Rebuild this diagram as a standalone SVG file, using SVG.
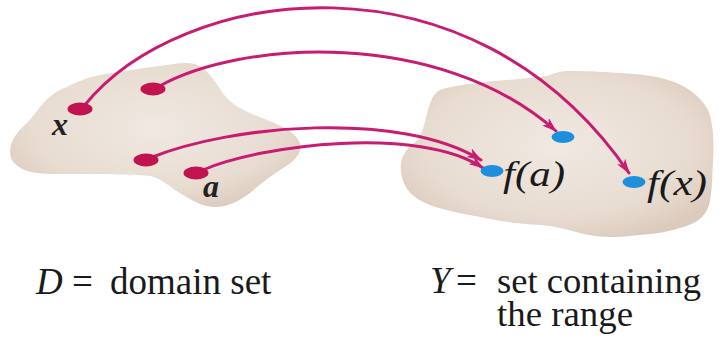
<svg xmlns="http://www.w3.org/2000/svg" width="725" height="339" viewBox="0 0 725 339">
<style>
.dotm{fill:#c0134f}
.dotb{fill:#1e8fdc}
.arr{fill:none;stroke:#c81c72;stroke-width:3;stroke-linecap:round}
</style>
<defs>
<radialGradient id="g" cx="0.5" cy="0.45" r="0.6">
<stop offset="0" stop-color="#f0e9e2"/>
<stop offset="0.7" stop-color="#e8dcd1"/>
<stop offset="1" stop-color="#dccbbd"/>
</radialGradient>
<marker id="ah" markerUnits="userSpaceOnUse" markerWidth="16" markerHeight="10" refX="14" refY="5" orient="auto">
<path d="M0,0 L15,5 L0,10 L4,5 z" fill="#c81c72"/>
</marker>
</defs>
<g id="domain">
<path fill="url(#g)" d="M40,107 C50,95 58,90 67,87 C80,80 90,77 100,75 C120,72 140,68 167,65 C178,63 187,62 195,64 C207,68 214,80 222,92 C230,103 240,110 267,120 C285,127 296,133 300,143 C303,152 295,162 280,170 C268,178 258,186 250,193 C238,202 225,208 213,207 C200,206 190,199 178,192 C168,185 160,178 150,176 C130,174 90,174 60,174 C35,174 20,172 12,160 C7,150 12,135 27,123 C32,118 36,112 40,107 Z"/>
</g>
<g id="range">
<path fill="url(#g)" d="M440,90 C455,85 470,84 485,82 C510,80 530,78 547,76 C555,73 560,71 570,71 C590,71 605,72 620,73 C640,74 655,76 668,80 C685,85 700,95 708,110 C714,125 714,145 713,162 C712,180 712,195 709,205 C705,218 695,224 680,228 C665,233 650,234 630,236 C610,238 595,237 580,233 C565,229 555,226 540,225 C520,224 505,222 490,219 C470,215 450,212 430,205 C412,198 403,188 401,172 C400,160 403,150 418,140 C424,130 425,120 428,110 C431,100 433,94 440,90 Z"/>
</g>
<g id="connectors" marker-end="url(#ah)">
<path class="arr" marker-end="url(#ah)" d="M84,106 C180,-14 470,-58 629,173"/>
<path class="arr" marker-end="url(#ah)" d="M158,87 C240,40 440,28 556,131"/>
<path class="arr" marker-end="url(#ah)" d="M150,158 C230,125 400,110 481,160"/>
<path class="arr" marker-end="url(#ah)" d="M203,170 C260,145 420,125 483,168"/>
</g>
<g id="x">
<ellipse class="dotm" cx="80" cy="109" rx="12.5" ry="6.5"/>
<text x="52" y="135" fill="#222" font-family="Liberation Serif" font-style="italic" font-weight="bold" font-size="32">x</text>
</g>
<g id="p2">
<ellipse class="dotm" cx="153" cy="89" rx="12.5" ry="6.5"/>
</g>
<g id="p3">
<ellipse class="dotm" cx="146" cy="160" rx="12.5" ry="6.5"/>
</g>
<g id="a">
<ellipse class="dotm" cx="196" cy="173" rx="12.5" ry="6.5"/>
<text x="203" y="197" fill="#222" font-family="Liberation Serif" font-style="italic" font-weight="bold" font-size="32">a</text>
</g>
<g id="q2">
<ellipse class="dotb" cx="563" cy="137" rx="11.5" ry="6"/>
</g>
<g id="fa">
<ellipse class="dotb" cx="492" cy="171" rx="11.5" ry="6"/>
<text x="503" y="186" fill="#1a1a1a" font-family="Liberation Serif" font-style="italic" font-size="35" textLength="62" lengthAdjust="spacingAndGlyphs">f(a)</text>
</g>
<g id="fx">
<ellipse class="dotb" cx="634" cy="182" rx="11.5" ry="6"/>
<text x="647" y="195" fill="#1a1a1a" font-family="Liberation Serif" font-style="italic" font-size="35" textLength="60" lengthAdjust="spacingAndGlyphs">f(x)</text>
</g>
<g id="captionD">
<text y="294" fill="#1a1a1a" font-family="Liberation Serif" font-size="37"><tspan font-style="italic" x="36">D</tspan><tspan x="72">=</tspan><tspan x="110">domain set</tspan></text>
</g>
<g id="captionY">
<text y="293" fill="#1a1a1a" font-family="Liberation Serif" font-size="37"><tspan font-style="italic" x="430">Y</tspan><tspan x="456">=</tspan></text>
<text x="497" y="293" fill="#1a1a1a" font-family="Liberation Serif" font-size="35" textLength="204" lengthAdjust="spacingAndGlyphs">set containing</text>
<text x="497" y="326" fill="#1a1a1a" font-family="Liberation Serif" font-size="35" textLength="136" lengthAdjust="spacingAndGlyphs">the range</text>
</g>
</svg>
